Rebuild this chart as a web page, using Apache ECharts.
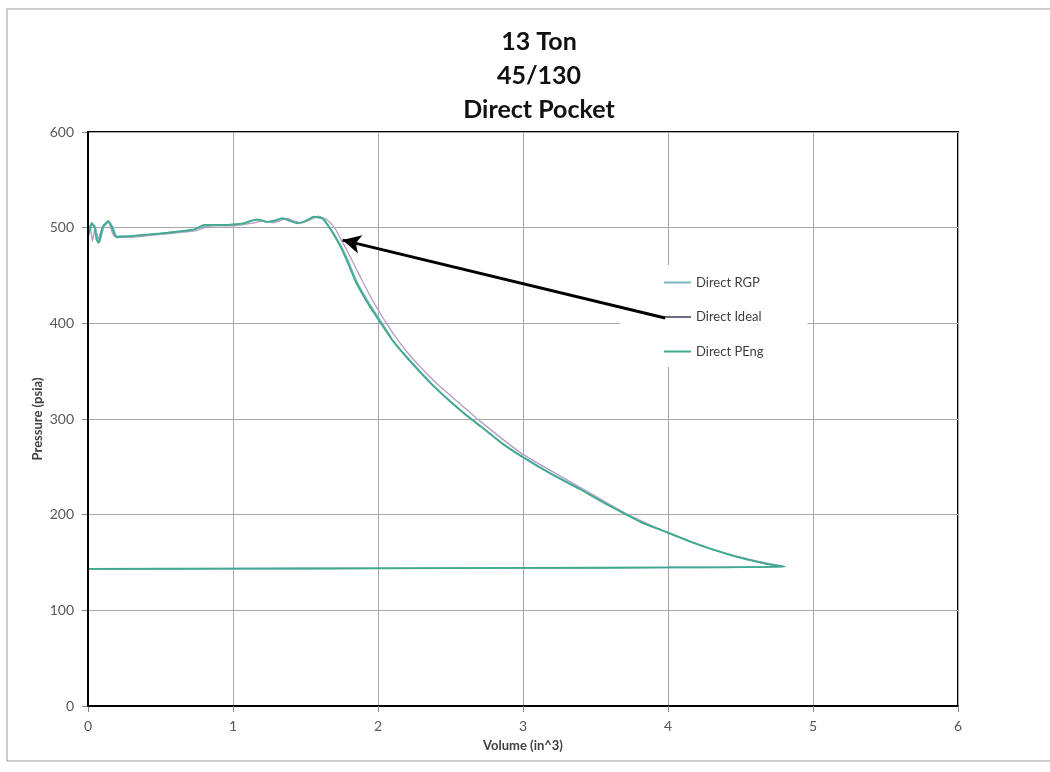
<!DOCTYPE html>
<html>
<head>
<meta charset="utf-8">
<script src="https://cdn.jsdelivr.net/npm/echarts@6/dist/echarts.min.js"></script>
<style>
html,body{margin:0;padding:0;background:#fff;}
#chart{width:1050px;height:772px;}
</style>
</head>
<body>
<div id="chart"></div>
<script>
// ---- data ----
const titleLines = ['13 Ton', '45/130', 'Direct Pocket'];
const seriesNames = ['Direct RGP', 'Direct Ideal', 'Direct PEng'];
const xTicks = [0, 1, 2, 3, 4, 5, 6];
const yTicks = [0, 100, 200, 300, 400, 500, 600];

// suction line (shared by all three runs)
const suctionVol = [0, 1, 2, 3, 4, 4.806];
const suctionP   = [143.3, 143.6, 143.9, 144.3, 144.8, 145.6];

// compression + discharge, PEng
const pengVol = [4.806, 4.70, 4.58, 4.45, 4.28, 4.15, 4.01, 3.95, 3.815, 3.70, 3.55, 3.40, 3.20, 3.01, 2.85, 2.71, 2.60, 2.50, 2.385, 2.20, 2.10, 2.02, 1.93, 1.845, 1.79, 1.742, 1.673, 1.615, 1.557, 1.50, 1.443, 1.39, 1.339, 1.29, 1.235, 1.20, 1.166, 1.12, 1.07, 0.96, 0.80, 0.73, 0.50, 0.27, 0.195, 0.165, 0.14, 0.105, 0.09, 0.075, 0.06, 0.045, 0.025, 0.01, 0];
const pengP   = [145.6, 148, 152, 157, 165, 172, 180.5, 184, 192, 201, 213, 226, 242, 259, 275, 292, 305, 318, 334, 364, 382, 400, 421, 444, 464, 480, 498, 509.7, 511.5, 507, 504.5, 507.5, 510, 507.5, 506, 507.5, 508.6, 507, 504.5, 503, 503, 498, 494, 491, 490, 500, 507, 502, 495, 484, 487, 500, 505, 497, 490];

// compression + discharge, RGP
const rgpVol = [4.806, 4.70, 4.58, 4.45, 4.28, 4.15, 4.01, 3.95, 3.815, 3.70, 3.55, 3.40, 3.20, 3.01, 2.85, 2.71, 2.60, 2.50, 2.385, 2.20, 2.10, 2.025, 1.935, 1.85, 1.795, 1.745, 1.676, 1.62, 1.56, 1.50, 1.45, 1.39, 1.34, 1.29, 1.24, 1.20, 1.17, 1.12, 1.07, 0.96, 0.82, 0.73, 0.50, 0.27, 0.20, 0.17, 0.145, 0.11, 0.095, 0.08, 0.065, 0.05, 0.03, 0.012, 0];
const rgpP   = [145.6, 148, 152, 157, 165, 172, 180.8, 184.3, 192.5, 201.5, 213.5, 226.5, 242.5, 259.5, 275.5, 292.5, 305.5, 318.5, 334.5, 365, 383, 401, 422, 445, 465, 481, 498.5, 510, 511, 507, 505, 507, 509.5, 507, 506, 507, 508, 506.5, 504, 503, 502, 498, 494, 491, 491, 501, 506, 501, 493, 485, 489, 501, 504, 496, 490];

// compression + discharge, Ideal
const idealVol = [4.806, 4.60, 4.30, 4.00, 3.70, 3.40, 3.00, 2.71, 2.55, 2.42, 2.30, 2.20, 2.12, 2.05, 1.97, 1.89, 1.84, 1.78, 1.74, 1.70, 1.65, 1.59, 1.53, 1.47, 1.42, 1.37, 1.32, 1.28, 1.24, 1.20, 1.15, 1.10, 1.00, 0.85, 0.75, 0.50, 0.30, 0.18, 0.14, 0.10, 0.07, 0.05, 0.03, 0.015, 0];
const idealP   = [145.6, 152, 164, 181, 202, 228, 263, 297, 318, 335, 353, 370, 386, 402, 422, 445, 460, 478, 489, 500, 508, 512, 508, 505, 507, 510, 507, 505, 506, 507, 505, 504, 502, 502, 497, 493, 490, 491, 506, 500, 488, 500, 486, 503, 490];

// arrow annotation (tail, head) in data units
const arrowTail = [3.98, 405.6];
const arrowHead = [1.756, 487];

// ---- build ----
function loop(vol, p) {
  const pts = [];
  for (let i = 0; i < suctionVol.length; i++) pts.push([suctionVol[i], suctionP[i]]);
  for (let i = 0; i < vol.length; i++) pts.push([vol[i], p[i]]);
  pts.push([suctionVol[0], suctionP[0]]);
  return pts;
}

const colors = { rgp: '#79b8c2', ideal: '#b49cc6', peng: '#3fab8c' };
const FONT = 'Lato, "Open Sans", sans-serif';

const chart = echarts.init(document.getElementById('chart'), null, { renderer: 'canvas' });
chart.setOption({
  animation: false,
  backgroundColor: '#fff',
  title: {
    text: titleLines.join('\n'),
    left: 534,
    textAlign: 'center',
    top: 20,
    textStyle: { fontFamily: FONT, fontWeight: 'bold', fontSize: 25, lineHeight: 34, color: '#111' }
  },
  graphic: [{
    type: 'rect', z: -10, silent: true,
    shape: { x: 7, y: 9, width: 1080, height: 752 },
    style: { fill: null, stroke: '#9a9a9a', lineWidth: 1 }
  }],
  legend: {
    orient: 'vertical',
    left: 620, top: 265,
    z: 1,
    icon: 'rect',
    padding: [11, 44, 9, 44],
    itemGap: 21.5,
    itemWidth: 27, itemHeight: 2,
    backgroundColor: '#fff',
    textStyle: { fontFamily: FONT, fontSize: 13, color: '#404040' },
    data: [
      { name: seriesNames[0] },
      { name: seriesNames[1], itemStyle: { color: '#6e6a7c' } },
      { name: seriesNames[2] }
    ]
  },
  grid: {
    left: 88, right: 92, top: 132, bottom: 66,
    show: true, borderColor: '#000', borderWidth: 2, backgroundColor: 'transparent'
  },
  xAxis: {
    type: 'value', min: xTicks[0], max: xTicks[xTicks.length - 1], interval: 1,
    name: 'Volume (in^3)', nameLocation: 'middle', nameGap: 33, nameMoveOverlap: false,
    nameTextStyle: { fontFamily: FONT, fontWeight: 'bold', fontSize: 13, color: '#404040' },
    axisLine: { show: true, lineStyle: { color: '#000', width: 2 } },
    axisTick: { show: true, length: 6, lineStyle: { color: '#888' } },
    axisLabel: { margin: 13, fontFamily: FONT, fontSize: 14, color: '#595959' },
    splitLine: { show: true, lineStyle: { color: '#a8a8a8', width: 1 } }
  },
  yAxis: [{
    type: 'value', min: yTicks[0], max: yTicks[yTicks.length - 1], interval: 100,
    name: 'Pressure (psia)', nameLocation: 'middle', nameGap: 44, nameMoveOverlap: false,
    nameTextStyle: { fontFamily: FONT, fontWeight: 'bold', fontSize: 13, color: '#404040' },
    axisLine: { show: true, lineStyle: { color: '#000', width: 2 } },
    axisTick: { show: true, length: 6, lineStyle: { color: '#888' } },
    axisLabel: { margin: 14, fontFamily: FONT, fontSize: 14, color: '#595959' },
    splitLine: { show: true, lineStyle: { color: '#a8a8a8', width: 1 } }
  }, {
    type: 'value', min: yTicks[0], max: yTicks[yTicks.length - 1], interval: 100,
    position: 'left', z: 6,
    axisLine: { show: true, onZero: false, lineStyle: { color: '#000', width: 2 } },
    axisTick: { show: false }, axisLabel: { show: false }, splitLine: { show: false }
  }],
  series: [
    {
      name: seriesNames[1], type: 'line', symbol: 'none', smooth: 0.15, z: 2,
      data: loop(idealVol, idealP),
      lineStyle: { color: colors.ideal, width: 1.3 }, itemStyle: { color: colors.ideal }
    },
    {
      name: seriesNames[0], type: 'line', symbol: 'none', smooth: 0.15, z: 3,
      data: loop(rgpVol, rgpP),
      lineStyle: { color: colors.rgp, width: 1.5 }, itemStyle: { color: colors.rgp }
    },
    {
      name: seriesNames[2], type: 'line', symbol: 'none', smooth: 0.15, z: 4,
      data: loop(pengVol, pengP),
      lineStyle: { color: colors.peng, width: 1.8 }, itemStyle: { color: colors.peng },
      markLine: {
        silent: true, animation: false,
        symbol: ['none', 'arrow'], symbolSize: [14, 18],
        label: { show: false },
        lineStyle: { color: '#000', width: 3, type: 'solid' },
        data: [[{ coord: arrowTail }, { coord: arrowHead }]]
      }
    }
  ]
});
</script>
</body>
</html>
